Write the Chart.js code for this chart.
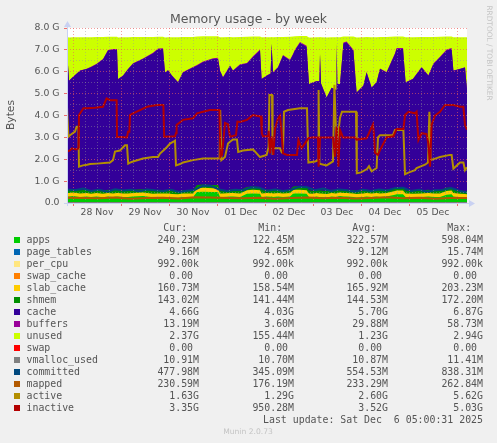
<!DOCTYPE html>
<html><head><meta charset="utf-8">
<script src="https://cdn.jsdelivr.net/npm/chart.js@4.4.1/dist/chart.umd.min.js"></script>
<style>
html,body{margin:0;padding:0;background:#F0F0F0;}
#wrap{position:relative;width:497px;height:443px;overflow:hidden;background:#F0F0F0;font-family:'DejaVu Sans',sans-serif;}
#c{position:absolute;left:0;top:0;}
.t{position:absolute;white-space:pre;color:#555;}
.mono{font-family:'DejaVu Sans Mono',monospace;font-size:9.9px;line-height:12px;height:12px;}
.sq{position:absolute;width:6px;height:6px;}
</style></head><body><div id="wrap"><canvas id="c" width="497" height="443"></canvas>
<div class="t" style="left:0;width:497px;top:11px;text-align:center;font-size:12.5px;line-height:16px;">Memory usage - by week</div>
<div class="t" style="left:-39.5px;width:100px;top:108px;text-align:center;font-size:10.7px;line-height:14px;transform:rotate(-90deg);">Bytes</div>
<div class="t" style="left:439px;width:100px;top:48px;text-align:center;font-size:7.4px;line-height:10px;color:#C4C4C4;transform:rotate(90deg);">RRDTOOL / TOBI OETIKER</div>
<div class="t" style="left:148px;width:200px;top:426px;text-align:center;font-size:7.6px;line-height:12px;color:#C4C4C4;">Munin 2.0.73</div>
<div id="legend"></div>
</div>
<script>
// ---- time grid (hours since Nov 27 21:00; plot spans 200 h) ----
const hours = [0, 1, 3, 6.5, 9.8, 12, 14.8, 18, 20.5, 23,
 25, 25.5, 28, 30.5, 33, 38, 43, 45.5, 48, 49,
 50.5, 52.5, 55.5, 58, 63, 65, 68, 73, 75.5, 76.5,
 78, 81.5, 83, 86.5, 90, 93, 96.5, 97.3, 99.8, 101.8,
 102.3, 103, 105.5, 108, 111.5, 113, 114, 116.5, 119.8, 121,
 123, 124.8, 126.2, 126.5, 127, 129.8, 132.3, 134.5, 134.8, 135.2,
 136.5, 138.2, 139.8, 143.2, 144.8, 148.2, 149.8, 152.3, 154.8, 156.5,
 159.8, 164, 164.8, 168, 169.3, 173, 177.3, 180.7, 183.2, 186.5,
 189.8, 192.3, 193.2, 196.5, 199, 200];

// ---- stacked series (GiB) ----
const apps = [0.30,0.30,0.32,0.28,0.30,0.27,0.30,0.26,0.30,0.28,
 0.30,0.30,0.27,0.28,0.30,0.32,0.26,0.27,0.28,0.28,
 0.27,0.25,0.24,0.27,0.28,0.50,0.52,0.50,0.50,0.28,
 0.27,0.30,0.30,0.28,0.42,0.44,0.42,0.28,0.30,0.29,
 0.30,0.28,0.30,0.27,0.30,0.42,0.44,0.44,0.42,0.28,
 0.26,0.30,0.28,0.28,0.27,0.25,0.30,0.28,0.28,0.30,
 0.32,0.30,0.30,0.28,0.25,0.28,0.30,0.27,0.30,0.28,
 0.30,0.38,0.40,0.40,0.27,0.26,0.28,0.30,0.27,0.28,
 0.38,0.40,0.30,0.26,0.25,0.24];
const slabCache = [0.16,0.16,0.161,0.16,0.16,0.158,0.16,0.16,0.162,0.16,
 0.16,0.159,0.16,0.16,0.161,0.16,0.16,0.16,0.159,0.16,
 0.16,0.16,0.159,0.16,0.16,0.17,0.172,0.17,0.168,0.16,
 0.16,0.161,0.16,0.16,0.166,0.168,0.166,0.16,0.16,0.16,
 0.16,0.16,0.161,0.16,0.16,0.168,0.17,0.17,0.168,0.16,
 0.159,0.16,0.16,0.16,0.16,0.159,0.16,0.16,0.16,0.161,
 0.16,0.16,0.16,0.16,0.159,0.16,0.16,0.16,0.161,0.16,
 0.16,0.165,0.166,0.166,0.16,0.16,0.16,0.161,0.16,0.16,
 0.165,0.166,0.16,0.161,0.16,0.161];
const shmem = [0.143,0.143,0.144,0.143,0.143,0.142,0.143,0.143,0.144,0.143,
 0.143,0.142,0.143,0.143,0.144,0.143,0.143,0.143,0.142,0.143,
 0.143,0.143,0.142,0.143,0.143,0.15,0.152,0.15,0.15,0.143,
 0.143,0.144,0.143,0.143,0.148,0.15,0.148,0.143,0.143,0.143,
 0.143,0.143,0.144,0.143,0.143,0.15,0.152,0.152,0.15,0.143,
 0.142,0.143,0.143,0.143,0.143,0.142,0.143,0.143,0.143,0.144,
 0.143,0.143,0.143,0.143,0.142,0.143,0.143,0.143,0.144,0.143,
 0.143,0.147,0.148,0.148,0.143,0.143,0.143,0.144,0.143,0.143,
 0.147,0.148,0.143,0.143,0.143,0.143];
const cache = [6.43,4.98,5.14,5.46,5.52,5.64,5.74,6.00,6.36,6.42,
 6.40,5.06,5.24,5.53,5.76,5.96,6.27,6.46,6.45,5.38,
 5.49,5.26,4.97,5.39,5.61,5.46,5.59,5.76,5.78,5.46,
 5.16,5.66,5.44,5.73,5.64,5.91,6.24,5.08,5.21,5.32,
 6.66,5.38,5.59,6.16,5.91,6.04,6.22,6.55,6.39,4.85,
 4.95,4.96,4.98,6.22,4.89,4.27,4.66,4.58,6.68,4.83,
 4.81,6.69,6.73,6.38,4.50,4.78,5.36,4.69,4.91,5.54,
 5.36,6.12,6.33,6.33,4.94,5.10,5.61,5.21,5.77,6.07,
 6.28,6.33,5.44,5.56,5.64,4.64];
const buffers = [0.02,0.005,0.008,0.012,0.015,0.018,0.02,0.025,0.03,0.032,
 0.034,0.006,0.01,0.014,0.018,0.025,0.03,0.035,0.038,0.008,
 0.01,0.012,0.015,0.02,0.025,0.03,0.035,0.04,0.042,0.01,
 0.012,0.02,0.018,0.025,0.03,0.035,0.04,0.01,0.014,0.016,
 0.03,0.018,0.022,0.03,0.032,0.036,0.04,0.05,0.055,0.008,
 0.01,0.012,0.013,0.03,0.012,0.004,0.01,0.01,0.04,0.012,
 0.012,0.045,0.05,0.045,0.006,0.01,0.02,0.012,0.016,0.025,
 0.024,0.035,0.04,0.04,0.01,0.014,0.025,0.02,0.03,0.036,
 0.04,0.042,0.015,0.016,0.018,0.013];
const unused = [0.53,1.98,1.80,1.52,1.44,1.35,1.22,1.00,0.60,0.56,
 0.56,1.90,1.75,1.45,1.20,0.98,0.73,0.53,0.53,1.60,
 1.50,1.75,2.05,1.60,1.37,1.30,1.15,1.00,0.98,1.52,
 1.83,1.30,1.52,1.25,1.20,0.91,0.60,1.90,1.75,1.65,
 0.30,1.60,1.37,0.83,1.05,0.80,0.60,0.27,0.45,2.13,
 2.05,2.00,2.00,0.76,2.10,2.74,2.30,2.40,0.30,2.13,
 2.13,0.27,0.23,0.60,2.51,2.20,1.60,2.30,2.05,1.44,
 1.60,0.76,0.53,0.53,2.05,1.90,1.37,1.75,1.22,0.91,
 0.60,0.53,1.52,1.44,1.37,2.38];

// near-zero series
const edgeHours = [0, 200];
const pageTables = [0.0091, 0.0092];
const perCpu = [0.00095, 0.00095];
const swapCache = [0, 0];
const swap = [0, 0];
const vmallocUsed = [0.0107, 0.0109];

// ---- line series ----
const committedHours = [0,4,8,12,16,20,24,28,32,36,40,44,48,52,56,60,64,68,72,76,80,84,88,92,96,100,104,108,112,116,120,124,128,132,136,140,144,148,152,156,160,164,168,172,176,180,184,188,192,196,200];
const committed = [0.62,0.58,0.66,0.55,0.6,0.52,0.63,0.57,0.6,0.54,0.62,0.58,0.55,0.6,0.5,0.56,0.6,0.8,0.78,0.62,0.55,0.6,0.58,0.72,0.7,0.56,0.62,0.55,0.6,0.74,0.72,0.58,0.66,0.55,0.62,0.58,0.52,0.6,0.55,0.62,0.57,0.68,0.7,0.55,0.6,0.52,0.58,0.6,0.68,0.56,0.48];
const mappedHours = [0,8,16,24,32,40,48,56,64,72,80,88,96,104,112,120,128,136,144,152,160,168,176,184,192,200];
const mapped = [0.24,0.23,0.22,0.25,0.2,0.23,0.24,0.21,0.26,0.25,0.23,0.22,0.24,0.2,0.23,0.25,0.22,0.24,0.21,0.23,0.26,0.22,0.24,0.2,0.23,0.23];
const activeHours = [0,0.7,1.5,4,4.8,5.7,6,8,10,11.5,15,21.5,23,24,26.5,29,30,30.6,31.5,33,38,43,45.5,46.5,48.2,50,51.5,53.2,54,54.5,56.5,58,63,68,73,76.3,76.6,77.2,79,80.5,81.5,83,85,85.6,88,93,96.5,99.8,100.8,101.2,102.5,102.8,103.2,106.5,107.3,108,108.5,110.5,116.5,120,120.7,124,125.6,125.8,126.2,129.8,133,133.7,134.8,136.5,137.5,144.5,144.9,147,150,151,152.3,154.8,155.5,156.5,163,164,168.2,169,171,174,174.8,179,180.5,181.2,181.8,184.8,186.5,191.5,192.3,193.2,196.5,198.2,199,200];
const active = [4.4,3.03,3.1,3.26,3.49,3.49,1.66,1.72,1.75,1.78,1.8,1.85,1.96,2.35,2.4,2.64,2.64,1.8,1.85,1.9,2.03,2.1,2.1,2.26,2.4,2.56,2.72,2.8,2.85,1.72,1.78,1.85,1.96,2.03,2.03,2.03,4.25,1.96,2.1,2.72,2.8,2.9,2.9,2.33,2.4,2.45,2.1,2.2,2.56,4.94,4.94,2.2,2.5,2.5,2.33,2.4,4.17,4.25,4.33,4.33,1.85,1.9,1.95,5.17,1.8,1.72,1.9,5.4,2.5,3.9,4.17,4.17,1.36,1.4,1.55,1.68,1.45,1.6,3.0,3.1,3.1,3.34,3.34,1.32,1.4,1.5,1.6,1.75,1.85,4.17,1.96,2.05,2.1,2.2,2.2,1.57,1.85,1.85,1.5,1.63];
const inactiveHours = [0,1.5,2.5,4.5,5.8,6,8.2,10,14,18,19.8,21.5,24,24.8,25,30,30.5,31.2,31.5,33,36.5,40,45,48.2,48.6,54,54.5,54.8,58,63,65,68,71.5,76.2,76.7,77.5,79,80.5,81.5,84.5,85.2,86.5,90,93,96.5,97,97.4,98,100.5,100.8,101.5,102.3,103.2,104,105.5,106.5,107.3,108,110,115,115.7,117.3,120.7,122.5,125.5,125.8,126.5,129,133,134,134.8,135.7,136.5,138,144,144.8,149.8,153,153.5,154,155.5,156.5,159.8,163.2,164.8,168.2,169,170.7,174,174.8,175.7,177.3,179.8,180.7,181.5,182.3,184,186.5,189,193.2,196.5,198.2,199,200];
const inactive = [2.35,2.4,2.5,2.45,2.5,4.02,4.33,4.33,4.35,4.4,4.78,4.7,4.7,4.7,3.03,3.0,3.26,3.26,4.02,4.1,4.25,4.4,4.48,4.48,3.03,3.05,3.2,3.57,3.8,3.87,4.1,4.17,4.25,4.25,2.12,2.2,3.66,3.6,3.03,3.1,3.72,3.7,3.8,4.02,3.95,3.95,3.19,3.05,3.05,3.3,2.27,3.05,2.2,3.4,3.87,4.0,3.19,2.27,2.2,2.2,2.88,2.5,2.96,3.0,3.0,1.66,3.0,3.0,3.0,2.12,3.5,1.66,3.34,3.0,3.0,2.9,2.96,3.6,3.1,2.3,2.2,2.42,3.0,3.05,3.38,3.38,4.02,4.17,4.1,4.17,2.88,3.19,3.15,2.7,1.66,3.57,4.0,4.17,4.48,4.48,4.4,4.4,3.57,3.35];

// ---- axis labels ----
const dayLabels = ['28 Nov','29 Nov','30 Nov','01 Dec','02 Dec','03 Dec','04 Dec','05 Dec'];
const dayLabelHours = [15,39,63,87,111,135,159,183];
const firstMidnight = 3;

// ---- legend table ----
const names = ['apps','page_tables','per_cpu','swap_cache','slab_cache','shmem','cache','buffers','unused','swap','vmalloc_used','committed','mapped','active','inactive'];
const colors = ['#00CC00','#0066B3','#FFE680','#FF8000','#FFCC00','#008F00','#330099','#990099','#CCFF00','#FF0000','#808080','#00487D','#B35A00','#B38F00','#B30000'];
const curVals = ['240.23M','9.16M','992.00k','0.00 ','160.73M','143.02M','4.66G','13.19M','2.37G','0.00 ','10.91M','477.98M','230.59M','1.63G','3.35G'];
const minVals = ['122.45M','4.65M','992.00k','0.00 ','158.54M','141.44M','4.03G','3.60M','155.44M','0.00 ','10.70M','345.09M','176.19M','1.29G','950.28M'];
const avgVals = ['322.57M','9.12M','992.00k','0.00 ','165.92M','144.53M','5.70G','29.88M','1.23G','0.00 ','10.87M','554.53M','233.29M','2.60G','3.52G'];
const maxVals = ['598.04M','15.74M','992.00k','0.00 ','203.23M','172.20M','6.87G','58.73M','2.94G','0.00 ','11.41M','838.31M','262.84M','5.62G','5.03G'];
const lastUpdate = 'Last update: Sat Dec  6 05:00:31 2025';

// build legend as real text
(function(){
  const lg = document.getElementById('legend');
  const colRight = [199, 294, 388, 483];
  const heads = ['Cur:  ','Min:  ','Avg:  ','Max:  '];
  function txt(s, right, top, left){
    const d = document.createElement('div');
    d.className = 't mono';
    d.textContent = s;
    d.style.top = top + 'px';
    if (right != null) { d.style.right = (497 - right) + 'px'; d.style.textAlign = 'right'; }
    else d.style.left = left + 'px';
    lg.appendChild(d);
  }
  heads.forEach((h, j) => txt(h, colRight[j], 227.7 - 6));
  const cols = [curVals, minVals, avgVals, maxVals];
  names.forEach((n, i) => {
    const cy = 239.7 + 12 * i;
    const sq = document.createElement('div');
    sq.className = 'sq';
    sq.style.left = '14px'; sq.style.top = (cy - 3) + 'px'; sq.style.background = colors[i];
    lg.appendChild(sq);
    txt(n, null, cy - 6, 26.5);
    cols.forEach((c, j) => txt(c[i], colRight[j], cy - 6));
  });
  txt(lastUpdate, 483, 239.7 + 12 * 15 - 6);
})();

function pts(xs, ys){ return xs.map((x, i) => ({x: x, y: ys[i]})); }

const MAJOR = 'rgba(235,95,95,0.6)';
const MINOR = 'rgba(150,150,150,0.45)';

function area(label, ys, color){
  return {label, data: pts(hours, ys), backgroundColor: color, borderColor: color, borderWidth: 0,
          fill: 'origin', pointRadius: 0, tension: 0, stack: 'mem', order: 10};
}
function tiny(label, ys, color){
  return {label, data: pts(edgeHours, ys), borderColor: color, backgroundColor: color, borderWidth: 0,
          fill: false, pointRadius: 0, stack: 's_' + label, order: 9};
}
function line(label, xs, ys, color, order, w){
  return {label, data: pts(xs, ys), borderColor: color, backgroundColor: color, borderWidth: w,
          fill: false, pointRadius: 0, tension: 0, stack: 'l_' + label, order};
}

const datasets = [
  area('apps', apps, '#00CC00'),
  area('slab_cache', slabCache, '#FFCC00'),
  area('shmem', shmem, '#008F00'),
  area('cache', cache, '#330099'),
  area('buffers', buffers, '#990099'),
  area('unused', unused, '#CCFF00'),
  tiny('page_tables', pageTables, '#0066B3'),
  tiny('per_cpu', perCpu, '#FFE680'),
  tiny('swap_cache', swapCache, '#FF8000'),
  tiny('swap', swap, '#FF0000'),
  line('vmalloc_used', edgeHours, vmallocUsed, '#808080', 4, 1.5),
  line('committed', committedHours, committed, '#00487D', 3, 2),
  line('mapped', mappedHours, mapped, '#B35A00', 2, 2),
  line('active', activeHours, active, '#B38F00', 1, 2),
  line('inactive', inactiveHours, inactive, '#B30000', 0, 2)
];

const bgPlugin = {
  id: 'bg',
  beforeDraw(chart){
    const {ctx, chartArea: a} = chart;
    ctx.save(); ctx.fillStyle = '#FFFFFF';
    ctx.fillRect(a.left, a.top, a.right - a.left, a.bottom - a.top);
    ctx.restore();
  }
};
const axisPlugin = {
  id: 'axes',
  afterDraw(chart){
    const {ctx, chartArea: a} = chart;
    const col = '#C9D1F2';
    ctx.save();
    ctx.strokeStyle = col; ctx.fillStyle = col; ctx.lineWidth = 1;
    ctx.beginPath();
    ctx.moveTo(a.left - 3, a.bottom + 0.5); ctx.lineTo(a.right + 4, a.bottom + 0.5);
    ctx.moveTo(a.left + 0.5, a.bottom + 3); ctx.lineTo(a.left + 0.5, a.top - 4);
    ctx.stroke();
    ctx.beginPath();
    ctx.moveTo(a.right + 2, a.bottom - 3); ctx.lineTo(a.right + 8, a.bottom + 0.5); ctx.lineTo(a.right + 2, a.bottom + 4);
    ctx.closePath(); ctx.fill();
    ctx.beginPath();
    ctx.moveTo(a.left - 3, a.top - 1); ctx.lineTo(a.left + 0.5, a.top - 7); ctx.lineTo(a.left + 4, a.top - 1);
    ctx.closePath(); ctx.fill();
    ctx.restore();
  }
};

const isMidnight = v => ((v - firstMidnight) % 24) === 0;

new Chart(document.getElementById('c'), {
  type: 'line',
  data: {datasets},
  options: {
    responsive: false, animation: false, devicePixelRatio: 1,
    layout: {padding: {top: 28, right: 30, left: 0, bottom: 0}},
    plugins: {legend: {display: false}, tooltip: {enabled: false}, title: {display: false}},
    elements: {line: {borderJoinStyle: 'miter'}},
    scales: {
      x: {
        type: 'linear', min: 0, max: 200,
        afterBuildTicks: s => {
          const t = [];
          for (let h = firstMidnight; h <= 200; h += 6) t.push({value: h});
          s.ticks = t;
        },
        afterFit: s => { s.height = 240; },
        grid: {
          z: 1, lineWidth: 1, drawTicks: true, tickLength: 3,
          color: c => isMidnight(c.tick.value) ? MAJOR : MINOR,
          tickColor: c => isMidnight(c.tick.value) ? 'rgba(235,95,95,0.9)' : 'rgba(0,0,0,0)'
        },
        border: {display: false, dash: [1, 2]},
        ticks: {
          autoSkip: false, maxRotation: 0, minRotation: 0, padding: 1,
          color: '#555', font: {family: 'DejaVu Sans', size: 9.3},
          callback: v => { const i = dayLabelHours.indexOf(v); return i >= 0 ? dayLabels[i] : ''; }
        }
      },
      y: {
        type: 'linear', stacked: true, min: 0, max: 8,
        afterFit: s => { s.width = 67; },
        grid: {
          z: 1, lineWidth: 1, drawTicks: true, tickLength: 3,
          color: c => Number.isInteger(c.tick.value) ? MAJOR : MINOR,
          tickColor: c => Number.isInteger(c.tick.value) ? 'rgba(235,95,95,0.9)' : 'rgba(0,0,0,0)'
        },
        border: {display: false, dash: [1, 2]},
        ticks: {
          stepSize: 0.5, padding: 4.5, autoSkip: false,
          color: '#555', font: {family: 'DejaVu Sans', size: 9.3},
          callback: v => v === 0 ? '0.0' : (Number.isInteger(v) ? v.toFixed(1) + ' G' : '')
        }
      }
    }
  },
  plugins: [bgPlugin, axisPlugin]
});
</script>
</body></html>
